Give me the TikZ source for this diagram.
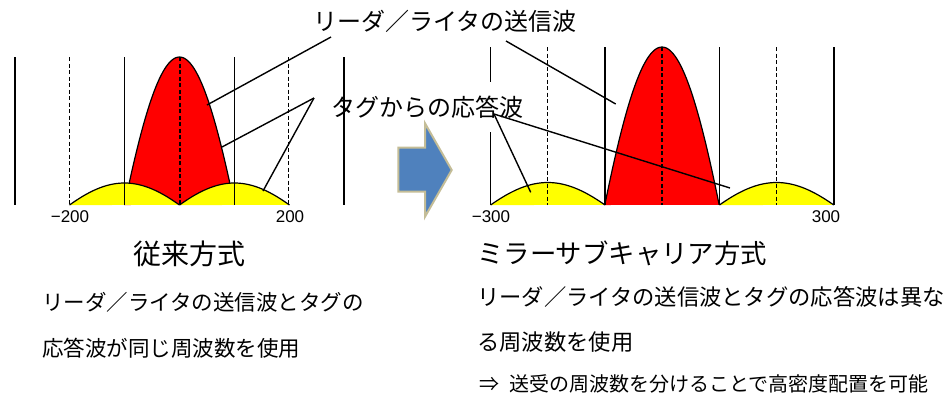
\documentclass[tikz,border=0pt]{standalone}
\usepackage{fontspec}
\setmainfont{Liberation Sans}
\newfontfamily\jp{Noto Sans CJK JP}
\definecolor{arrowblue}{HTML}{4F81BD}
\definecolor{arrowtan}{HTML}{C4BD97}
\definecolor{lobered}{HTML}{FF0000}
\definecolor{lobeyellow}{HTML}{FFFF00}
\newcommand\mylobe[4]{plot[domain=-1:1,samples=61] ({#1+#2*\x},{#3-#4*(0.5*cos(90*\x)+0.5*(1-\x*\x))})}
\begin{document}
\begin{tikzpicture}[x=1bp,y=-1bp,
  solidv/.style={line width=1.4bp},
  dashv/.style={line width=1.1bp,dash pattern=on 4bp off 2.5bp},
  lobeline/.style={line width=1.2bp},
  lead/.style={line width=1.4bp},
  num/.style={font=\fontsize{17bp}{19bp}\selectfont,inner sep=0pt},
  jlab/.style={font=\jp\fontsize{24bp}{28bp}\selectfont,inner sep=0pt},
  jtitle/.style={font=\jp\fontsize{#1}{32bp}\selectfont,inner sep=0pt,anchor=west},
  jbody/.style={font=\jp\fontsize{#1}{26bp}\selectfont,inner sep=0pt,anchor=west}]
\useasboundingbox (0,0) rectangle (949,402);

% ---------- left panel ----------
\fill[lobered] \mylobe{179.5}{55}{205}{148} -- cycle;
\draw[lobeline] \mylobe{179.5}{55}{205}{148};
\fill[lobeyellow] \mylobe{124.5}{55}{205}{22} -- cycle;
\draw[lobeline] \mylobe{124.5}{55}{205}{22};
\fill[lobeyellow] \mylobe{234.5}{55}{205}{22} -- cycle;
\draw[lobeline] \mylobe{234.5}{55}{205}{22};
\foreach \xx in {15,124.3,234.3,344} \draw[solidv] (\xx,57) -- (\xx,205);
\foreach \xx in {69.7,180,288.7} \draw[dashv] (\xx,57) -- (\xx,205);
\node[num] (nA) at (70,217) {−200};
\node[num] (nB) at (290,217) {200};

% ---------- right panel ----------
\fill[lobered] \mylobe{662}{57.2}{205}{158} -- cycle;
\draw[lobeline] \mylobe{662}{57.2}{205}{158};
\fill[lobeyellow] \mylobe{547.8}{57.2}{205}{22.5} -- cycle;
\draw[lobeline] \mylobe{547.8}{57.2}{205}{22.5};
\fill[lobeyellow] \mylobe{776.6}{57.2}{205}{22.5} -- cycle;
\draw[lobeline] \mylobe{776.6}{57.2}{205}{22.5};
\draw[solidv] (490.7,47) -- (490.7,82);
\draw[solidv] (490.7,132) -- (490.7,205);
\foreach \xx in {605,719.3,834} \draw[solidv] (\xx,47) -- (\xx,205);
\foreach \xx in {547.3,662,776.3} \draw[dashv] (\xx,47) -- (\xx,205);
\node[num] (nC) at (491,217) {−300};
\node[num] (nD) at (826,217) {300};

% ---------- arrow ----------
\draw[fill=arrowblue,draw=arrowtan,line width=2bp,line join=miter]
  (398.3,147.7) -- (425,147.7) -- (425,123.3) -- (451.7,170) -- (425,216.7) -- (425,191.7) -- (398.3,191.7) -- cycle;

% ---------- labels and leaders ----------
\node[jlab] (tx) at (445,21) {リーダ／ライタの送信波};
\node[jlab] (rx) at (427.5,107) {タグからの応答波};
\coordinate (txL) at (331,37);
\coordinate (txR) at (506,41);
\coordinate (rxL) at (314,98);
\coordinate (rxR) at (494,114);
\coordinate (pRedL) at (207,105);
\coordinate (pRedR) at (615.7,104);
\coordinate (pY1) at (222,147);
\coordinate (pY2) at (263,191);
\coordinate (pY3) at (730,188);
\coordinate (pY4) at (530.7,192.3);
\draw[lead] (txL) -- (pRedL);
\draw[lead] (txR) -- (pRedR);
\draw[lead] (rxL) -- (pY1);
\draw[lead] (rxL) -- (pY2);
\draw[lead] (rxR) -- (pY3);
\draw[lead] (rxR) -- (pY4);

% ---------- bottom texts ----------
\node[jtitle=28bp] (t1) at (133,254) {従来方式};
\node[jbody=21.5bp] (b1) at (42,302) {リーダ／ライタの送信波とタグの};
\node[jbody=21.5bp] (b2) at (42,348) {応答波が同じ周波数を使用};
\node[jtitle=26.4bp] (t2) at (477,253) {ミラーサブキャリア方式};
\node[jbody=22.3bp] (b3) at (477,297) {リーダ／ライタの送信波とタグの応答波は異な};
\node[jbody=22.3bp] (b4) at (477,342) {る周波数を使用};
\node[jbody=20bp] (b5) at (479,384) {⇒\hspace{10bp}送受の周波数を分けることで高密度配置を可能};
\end{tikzpicture}
\end{document}
